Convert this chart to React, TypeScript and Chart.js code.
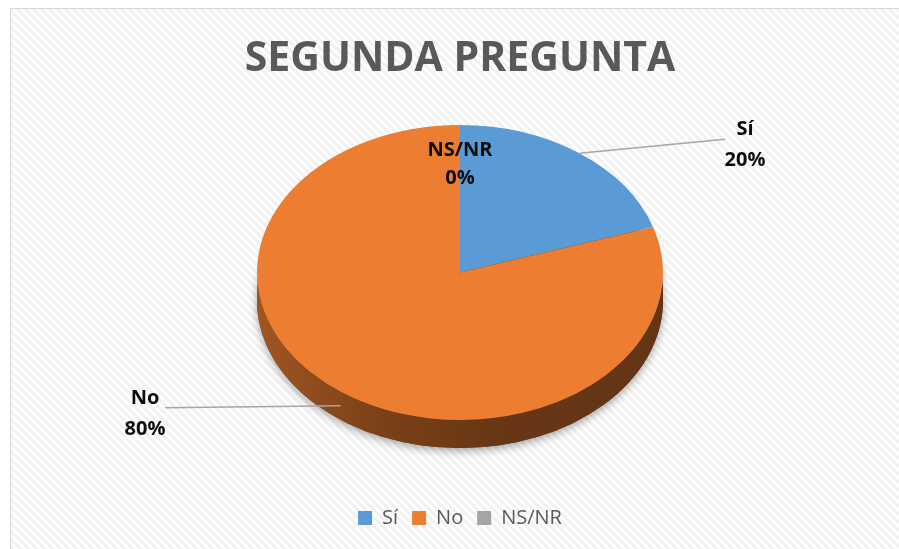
import React, { useEffect, useRef } from 'react';
import { Chart, registerables } from 'chart.js';

Chart.register(...registerables);

// ---- data ----
const categories = ['Sí', 'No', 'NS/NR'];
const values = [20, 80, 0];
const sliceColors = ['#5B9BD5', '#ED7D31', '#A5A5A5'];
const chartTitle = 'SEGUNDA PREGUNTA';

// ---- view / style ----
const W = 899;
const H = 549;
const TILT = 147.5 / 203; // vertical squash of the 3D view
const DEPTH = 28; // pie thickness in px
const FONT = "'Open Sans', 'DejaVu Sans', sans-serif";

function shade(hex: string, f: number) {
  const n = parseInt(hex.slice(1), 16);
  const r = Math.round(((n >> 16) & 255) * f);
  const g = Math.round(((n >> 8) & 255) * f);
  const b = Math.round((n & 255) * f);
  return `rgb(${r},${g},${b})`;
}

function makeStripes(ctx: CanvasRenderingContext2D) {
  const pc = document.createElement('canvas');
  pc.width = 8;
  pc.height = 8;
  const p = pc.getContext('2d')!;
  p.fillStyle = '#ffffff';
  p.fillRect(0, 0, 8, 8);
  p.strokeStyle = '#f1f1f1';
  p.lineWidth = 3;
  p.beginPath();
  for (let k = -1; k <= 1; k++) {
    p.moveTo(8 * k - 2, -2);
    p.lineTo(8 * k + 10, 10);
  }
  p.stroke();
  return ctx.createPattern(pc, 'repeat');
}

function geometry(chart: any) {
  const meta = chart.getDatasetMeta(0);
  const first = meta.data[0] as any;
  const R = first.outerRadius;
  const cx = first.x;
  const cyC = first.y;
  const ry = R * TILT;
  const ecy = chart.chartArea.top + ry;
  const proj = (x: number, y: number) => ({ x, y: ecy + (y - cyC) * TILT });
  return { meta, R, cx, cyC, ry, ecy, proj };
}

const pie3dPlugin = {
  id: 'pie3d',
  beforeDraw(chart: any) {
    const ctx = chart.ctx as CanvasRenderingContext2D;
    ctx.save();
    ctx.fillStyle = '#ffffff';
    ctx.fillRect(0, 0, chart.width, chart.height);
    const pat = makeStripes(ctx);
    if (pat) {
      ctx.fillStyle = pat;
      ctx.fillRect(10.5, 8.5, chart.width, chart.height);
    }
    ctx.strokeStyle = '#d9d9d9';
    ctx.lineWidth = 1;
    ctx.strokeRect(10.5, 8.5, chart.width + 10, chart.height + 10);
    ctx.restore();
  },
  beforeDatasetsDraw(chart: any) {
    const ctx = chart.ctx as CanvasRenderingContext2D;
    const { meta, R, cx, ry, ecy, cyC } = geometry(chart);
    // soft shadow under the pie
    ctx.save();
    ctx.shadowColor = 'rgba(0,0,0,0.35)';
    ctx.shadowBlur = 8;
    ctx.shadowOffsetY = 3;
    ctx.fillStyle = '#5a3010';
    ctx.beginPath();
    ctx.ellipse(cx, ecy + DEPTH, R, ry, 0, 0, Math.PI * 2);
    ctx.fill();
    ctx.restore();
    // side walls (front half only)
    meta.data.forEach((arc: any, i: number) => {
      const a1 = Math.max(arc.startAngle, 0);
      const a2 = Math.min(arc.endAngle, Math.PI);
      if (a2 <= a1) return;
      const base = sliceColors[i];
      const g = ctx.createLinearGradient(cx - R, 0, cx + R, 0);
      g.addColorStop(0, shade(base, 0.68));
      g.addColorStop(0.3, shade(base, 0.52));
      g.addColorStop(0.6, shade(base, 0.43));
      g.addColorStop(1, shade(base, 0.42));
      ctx.save();
      ctx.fillStyle = g;
      ctx.beginPath();
      ctx.ellipse(cx, ecy, R, ry, 0, a1, a2);
      ctx.ellipse(cx, ecy + DEPTH, R, ry, 0, a2, a1, true);
      ctx.closePath();
      ctx.fill();
      ctx.restore();
    });
    // squash the top face
    ctx.save();
    ctx.translate(0, ecy);
    ctx.scale(1, TILT);
    ctx.translate(0, -cyC);
  },
  afterDatasetsDraw(chart: any) {
    const ctx = chart.ctx as CanvasRenderingContext2D;
    ctx.restore();
    const { meta, R, cx, proj } = geometry(chart);
    const total = values.reduce((a, b) => a + b, 0);
    ctx.save();
    ctx.font = `bold 20px ${FONT}`;
    ctx.fillStyle = '#0d0d0d';
    ctx.textAlign = 'center';
    ctx.textBaseline = 'middle';
    meta.data.forEach((arc: any, i: number) => {
      const v = values[i];
      const pct = Math.round((v / total) * 100) + '%';
      const name = categories[i];
      if (v === 0) {
        const e = proj(arc.x + R * Math.cos(arc.startAngle), arc.y + R * Math.sin(arc.startAngle));
        ctx.fillText(name, e.x, e.y + 25);
        ctx.fillText(pct, e.x, e.y + 53);
        return;
      }
      const mid = (arc.startAngle + arc.endAngle) / 2;
      const e = proj(arc.x + R * Math.cos(mid), arc.y + R * Math.sin(mid));
      if (Math.sin(mid) > 0) e.y += DEPTH / 2;
      const side = Math.cos(mid) >= 0 ? 1 : -1;
      const endX = cx + side * (R + (side > 0 ? 62 : 92));
      const endY = e.y + (Math.sin(mid) < 0 ? -14 : 2);
      ctx.strokeStyle = '#a6a6a6';
      ctx.lineWidth = 1.5;
      ctx.beginPath();
      ctx.moveTo(e.x, e.y);
      ctx.lineTo(endX, endY);
      ctx.stroke();
      const tx = endX + side * 20;
      ctx.fillText(name, tx, endY - 10);
      ctx.fillText(pct, tx, endY + 21);
    });
    ctx.restore();
  },
};

export default function App() {
  const ref = useRef<HTMLCanvasElement | null>(null);
  useEffect(() => {
    document.documentElement.style.overflow = 'hidden';
    document.body.style.overflow = 'hidden';
    const canvas = ref.current;
    if (!canvas) return;
    const chart = new Chart(canvas, {
      type: 'pie',
      data: {
        labels: categories,
        datasets: [
          {
            data: values,
            backgroundColor: sliceColors,
            borderWidth: 0,
            radius: 203,
            clip: false,
          } as any,
        ],
      },
      options: {
        responsive: false,
        animation: false,
        events: [],
        devicePixelRatio: 1,
        layout: { padding: { left: 21, right: 0, top: 10, bottom: 11 } },
        plugins: {
          tooltip: { enabled: false },
          title: {
            display: true,
            text: chartTitle,
            color: '#595959',
            font: { family: FONT, size: 41, weight: 'bold' },
            padding: { top: 25, bottom: 40.8 },
          },
          legend: {
            display: true,
            position: 'bottom',
            labels: {
              boxWidth: 14,
              boxHeight: 14,
              padding: 14,
              color: '#595959',
              font: { family: FONT, size: 20 },
            },
          },
        },
      },
      plugins: [pie3dPlugin],
    } as any);
    return () => chart.destroy();
  }, []);
  return (
    <div style={{ position: 'fixed', left: 0, top: 0, width: W, height: H }}>
      <canvas ref={ref} width={W} height={H} />
    </div>
  );
}
